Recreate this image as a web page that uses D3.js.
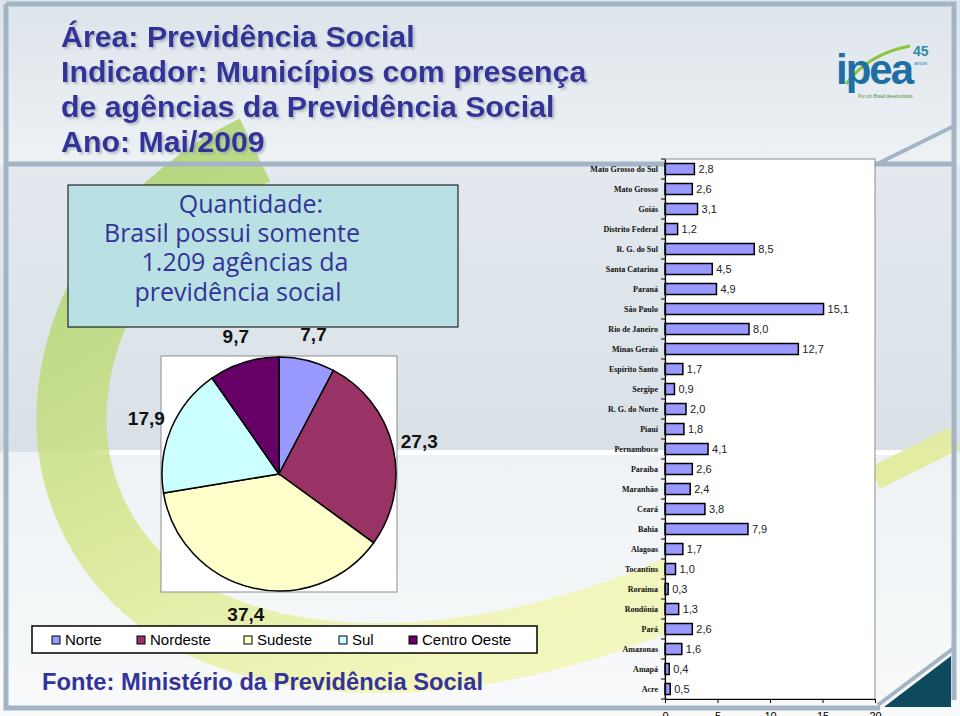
<!DOCTYPE html>
<html>
<head>
<meta charset="utf-8">
<script src="https://cdn.jsdelivr.net/npm/d3@7"></script>
<style>
  html, body { margin: 0; padding: 0; background: #e6ebef; overflow: hidden; }
  svg { display: block; }
</style>
</head>
<body>
<div class="chart"></div>
<script>
// ----------------------------
// data
// ----------------------------
var states = ["Mato Grosso do Sul", "Mato Grosso", "Goiás", "Distrito Federal", "R. G. do Sul",
  "Santa Catarina", "Paraná", "São Paulo", "Rio de Janeiro", "Minas Gerais", "Espírito Santo",
  "Sergipe", "R. G. do Norte", "Piauí", "Pernambuco", "Paraíba", "Maranhão", "Ceará", "Bahia",
  "Alagoas", "Tocantins", "Roraima", "Rondônia", "Pará", "Amazonas", "Amapá", "Acre"];
var stateValues = [2.8, 2.6, 3.1, 1.2, 8.5, 4.5, 4.9, 15.1, 8.0, 12.7, 1.7, 0.9, 2.0, 1.8, 4.1,
  2.6, 2.4, 3.8, 7.9, 1.7, 1.0, 0.3, 1.3, 2.6, 1.6, 0.4, 0.5];
var xTicks = [0, 5, 10, 15, 20];

var regions = ["Norte", "Nordeste", "Sudeste", "Sul", "Centro Oeste"];
var regionValues = [7.7, 27.3, 37.4, 17.9, 9.7];
var regionColors = ["#9999ff", "#993366", "#ffffcc", "#ccffff", "#660066"];

var titleLines = ["Área: Previdência Social", "Indicador: Municípios com presença",
  "de agências da Previdência Social", "Ano: Mai/2009"];
var boxLines = ["Quantidade:", "Brasil possui somente", "1.209 agências da", "previdência social"];
var sourceText = "Fonte: Ministério da Previdência Social";

// number format with decimal comma
var fmt = d3.formatLocale({decimal: ",", thousands: ".", grouping: [3], currency: ["R$", ""]}).format(".1f");

var svgWidth = 960;
var svgHeight = 716;
var blue = "#333399";

var svg = d3.select(".chart")
  .append("svg")
  .attr("width", svgWidth)
  .attr("height", svgHeight);

// ----------------------------
// slide background
// ----------------------------
var defs = svg.append("defs");

function vGrad(id, stops) {
  var g = defs.append("linearGradient").attr("id", id)
    .attr("x1", 0).attr("y1", 0).attr("x2", 0).attr("y2", 1);
  stops.forEach(function(s) {
    g.append("stop").attr("offset", s[0]).attr("stop-color", s[1]);
  });
}
vGrad("bgHead", [[0, "#dde4ea"], [1, "#eef2f5"]]);
vGrad("bgUpper", [[0, "#e3e9ee"], [1, "#d9e1e7"]]);
vGrad("bgLower", [[0, "#eef2f4"], [1, "#f8fafb"]]);

var swGrad = defs.append("linearGradient").attr("id", "swoosh")
  .attr("x1", 0).attr("y1", 0).attr("x2", 0.6).attr("y2", 1);
swGrad.append("stop").attr("offset", 0).attr("stop-color", "#9fcd55");
swGrad.append("stop").attr("offset", 0.55).attr("stop-color", "#cfe47d");
swGrad.append("stop").attr("offset", 1).attr("stop-color", "#f2f5a8");

// soft shadow for the title
var shadow = defs.append("filter").attr("id", "titleShadow")
  .attr("x", "-5%").attr("y", "-20%").attr("width", "110%").attr("height", "140%");
shadow.append("feDropShadow")
  .attr("dx", 2).attr("dy", 2).attr("stdDeviation", 0.8)
  .attr("flood-color", "#8f98aa").attr("flood-opacity", 0.6);

var bg = svg.append("g");
bg.append("rect").attr("width", svgWidth).attr("height", 166).attr("fill", "url(#bgHead)");
bg.append("rect").attr("y", 166).attr("width", svgWidth).attr("height", 286).attr("fill", "url(#bgUpper)");
bg.append("rect").attr("y", 452).attr("width", svgWidth).attr("height", 264).attr("fill", "url(#bgLower)");
bg.append("rect").attr("x", 95).attr("y", 450).attr("width", 860).attr("height", 5).attr("fill", "#ffffff");

// green / yellow swoosh behind the pie
bg.append("path")
  .attr("d", "M 255 150 C 50 250, 5 500, 180 612 C 320 690, 520 660, 680 590")
  .attr("fill", "none")
  .attr("stroke", "url(#swoosh)")
  .attr("stroke-width", 70)
  .attr("opacity", 0.75);
bg.append("path")
  .attr("d", "M 875 478 L 955 438")
  .attr("stroke", "#e3ec9c")
  .attr("stroke-width", 24)
  .attr("opacity", 0.9);

// frame lines
var frame = "#a3b4c5";
bg.append("path")
  .attr("d", "M 6 4 L 954 4 L 954 700 M 6 4 L 6 708 L 880 708")
  .attr("fill", "none").attr("stroke", frame).attr("stroke-width", 5);
bg.append("line").attr("x1", 6).attr("x2", 954).attr("y1", 164).attr("y2", 164)
  .attr("stroke", frame).attr("stroke-width", 5);
bg.append("path")
  .attr("d", "M 875 165 L 954 126 M 878 705 L 954 648")
  .attr("fill", "none").attr("stroke", frame).attr("stroke-width", 4);
bg.append("path")
  .attr("d", "M 884 707 L 951 656 L 951 707 Z")
  .attr("fill", "#0d4a5e");

// ipea logo
var logo = svg.append("g");
logo.append("path")
  .attr("d", "M 846 84 Q 868 54 910 46")
  .attr("fill", "none").attr("stroke", "#8cc63f").attr("stroke-width", 3);
logo.append("text")
  .attr("x", 836).attr("y", 84)
  .attr("font-family", "Arial, 'Liberation Sans', sans-serif")
  .attr("font-weight", "bold")
  .attr("font-size", 42)
  .attr("letter-spacing", -2)
  .attr("fill", "#1f6fa5")
  .text("ipea");
logo.append("text")
  .attr("x", 913).attr("y", 56)
  .attr("font-family", "Arial, 'Liberation Sans', sans-serif")
  .attr("font-weight", "bold").attr("font-size", 14)
  .attr("fill", "#2a8aa8").text("45");
logo.append("text")
  .attr("x", 914).attr("y", 65)
  .attr("font-family", "Arial, 'Liberation Sans', sans-serif")
  .attr("font-size", 6).attr("fill", "#2a8aa8").text("anos");
logo.append("text")
  .attr("x", 858).attr("y", 98)
  .attr("font-family", "Arial, 'Liberation Sans', sans-serif")
  .attr("font-size", 4.5).attr("fill", "#4d8a3a").text("Por um Brasil desenvolvido");

// ----------------------------
// titles
// ----------------------------
svg.append("g")
  .attr("font-family", "Arial, 'Liberation Sans', sans-serif")
  .attr("font-weight", "bold")
  .attr("font-size", 30.3)
  .attr("fill", blue)
  .attr("filter", "url(#titleShadow)")
  .selectAll("text")
  .data(titleLines)
  .enter()
  .append("text")
  .attr("x", 61)
  .attr("y", (d, i) => 47 + i * 35)
  .text(d => d);

// info box
var boxCenters = [251, 232, 245, 238];
svg.append("rect")
  .attr("x", 68).attr("y", 185)
  .attr("width", 390).attr("height", 142)
  .attr("fill", "#b9e0e3")
  .attr("stroke", "#000").attr("stroke-width", 1);
svg.append("g")
  .attr("font-family", "'Open Sans', 'Noto Sans', sans-serif")
  .attr("font-size", 25)
  .attr("fill", blue)
  .attr("text-anchor", "middle")
  .selectAll("text")
  .data(boxLines)
  .enter()
  .append("text")
  .attr("x", (d, i) => boxCenters[i])
  .attr("y", (d, i) => 213 + i * 29.2)
  .text(d => d);

// source
svg.append("text")
  .attr("x", 42).attr("y", 690)
  .attr("font-family", "Arial, 'Liberation Sans', sans-serif")
  .attr("font-weight", "bold")
  .attr("font-size", 23.7)
  .attr("fill", blue)
  .text(sourceText);

// ----------------------------
// pie chart by region
// ----------------------------
var pieCx = 279, pieCy = 474, pieR = 117;

svg.append("rect")
  .attr("x", 161).attr("y", 356)
  .attr("width", 236).attr("height", 236)
  .attr("fill", "#fff")
  .attr("stroke", "#8c8c8c").attr("stroke-width", 1);

var pie = d3.pie().sort(null).value(d => d);
var arc = d3.arc().innerRadius(0).outerRadius(pieR);
var labelArc = d3.arc().innerRadius(144).outerRadius(144);

var pieGroup = svg.append("g")
  .attr("transform", `translate(${pieCx}, ${pieCy})`);

pieGroup.selectAll("path")
  .data(pie(regionValues))
  .enter()
  .append("path")
  .attr("d", arc)
  .attr("fill", (d, i) => regionColors[i])
  .attr("stroke", "#000")
  .attr("stroke-width", 1.5);

pieGroup.selectAll("text")
  .data(pie(regionValues))
  .enter()
  .append("text")
  .attr("transform", d => `translate(${labelArc.centroid(d)})`)
  .attr("text-anchor", "middle")
  .attr("dy", "0.36em")
  .attr("font-family", "Arial, 'Liberation Sans', sans-serif")
  .attr("font-weight", "bold")
  .attr("font-size", 19)
  .attr("fill", "#111")
  .text(d => fmt(d.data));

// legend
var legendX = [52, 137, 244, 339, 409];
svg.append("rect")
  .attr("x", 32).attr("y", 626)
  .attr("width", 505).attr("height", 27)
  .attr("fill", "#fff")
  .attr("stroke", "#000").attr("stroke-width", 1.5);

var legendItems = svg.selectAll(".legendItem")
  .data(regions)
  .enter()
  .append("g")
  .attr("class", "legendItem")
  .attr("transform", (d, i) => `translate(${legendX[i]}, 636)`);

legendItems.append("rect")
  .attr("width", 8).attr("height", 8)
  .attr("fill", (d, i) => regionColors[i])
  .attr("stroke", "#000").attr("stroke-width", 1);

legendItems.append("text")
  .attr("x", 13).attr("y", 9)
  .attr("font-family", "Arial, 'Liberation Sans', sans-serif")
  .attr("font-size", 15)
  .attr("fill", "#000")
  .text(d => d);

// ----------------------------
// bar chart by state
// ----------------------------
var plot = {left: 665, right: 875, top: 159, bottom: 699};

var xScale = d3.scaleLinear()
  .domain([0, 20])
  .range([plot.left, plot.right]);

var yScale = d3.scaleBand()
  .domain(states)
  .range([plot.top, plot.bottom])
  .paddingInner(0.45)
  .paddingOuter(0.225);

svg.append("rect")
  .attr("x", plot.left).attr("y", plot.top)
  .attr("width", plot.right - plot.left)
  .attr("height", plot.bottom - plot.top)
  .attr("fill", "#fff")
  .attr("stroke", "#8c8c8c").attr("stroke-width", 1);

var barGroup = svg.append("g");

barGroup.selectAll("rect")
  .data(states)
  .enter()
  .append("rect")
  .attr("x", xScale(0))
  .attr("y", d => yScale(d))
  .attr("width", (d, i) => xScale(stateValues[i]) - xScale(0))
  .attr("height", yScale.bandwidth())
  .attr("fill", "#9999ff")
  .attr("stroke", "#000")
  .attr("stroke-width", 1.5);

barGroup.selectAll("text")
  .data(states)
  .enter()
  .append("text")
  .attr("x", (d, i) => xScale(stateValues[i]) + 4)
  .attr("y", d => yScale(d) + yScale.bandwidth() / 2)
  .attr("dy", "0.36em")
  .attr("font-family", "Arial, 'Liberation Sans', sans-serif")
  .attr("font-size", 11)
  .attr("fill", "#222")
  .text((d, i) => fmt(stateValues[i]));

// y axis with category ticks between bars
var yAxisGroup = svg.append("g")
  .attr("transform", `translate(${plot.left}, 0)`)
  .call(d3.axisLeft(yScale).tickSize(0).tickSizeOuter(0).tickPadding(7));
yAxisGroup.select(".domain").attr("stroke", "#000").attr("stroke-width", 1.2);
yAxisGroup.selectAll("text")
  .attr("font-family", "'Liberation Serif', 'Times New Roman', serif")
  .attr("font-weight", "bold")
  .attr("font-size", 8)
  .attr("fill", "#111");

yAxisGroup.selectAll(".catTick")
  .data(d3.range(states.length + 1))
  .enter()
  .append("line")
  .attr("class", "catTick")
  .attr("x1", -4).attr("x2", 0)
  .attr("y1", i => plot.top + i * yScale.step())
  .attr("y2", i => plot.top + i * yScale.step())
  .attr("stroke", "#000");

// x axis (labels run off the bottom edge, as on the slide)
var xAxisGroup = svg.append("g")
  .attr("transform", `translate(0, ${plot.bottom})`)
  .call(d3.axisBottom(xScale).tickValues(xTicks).tickSize(4).tickSizeOuter(0).tickPadding(9));
xAxisGroup.select(".domain").attr("stroke", "#000").attr("stroke-width", 1.2);
xAxisGroup.selectAll("text")
  .attr("font-family", "Arial, 'Liberation Sans', sans-serif")
  .attr("font-size", 11)
  .attr("fill", "#000");
</script>
</body>
</html>
